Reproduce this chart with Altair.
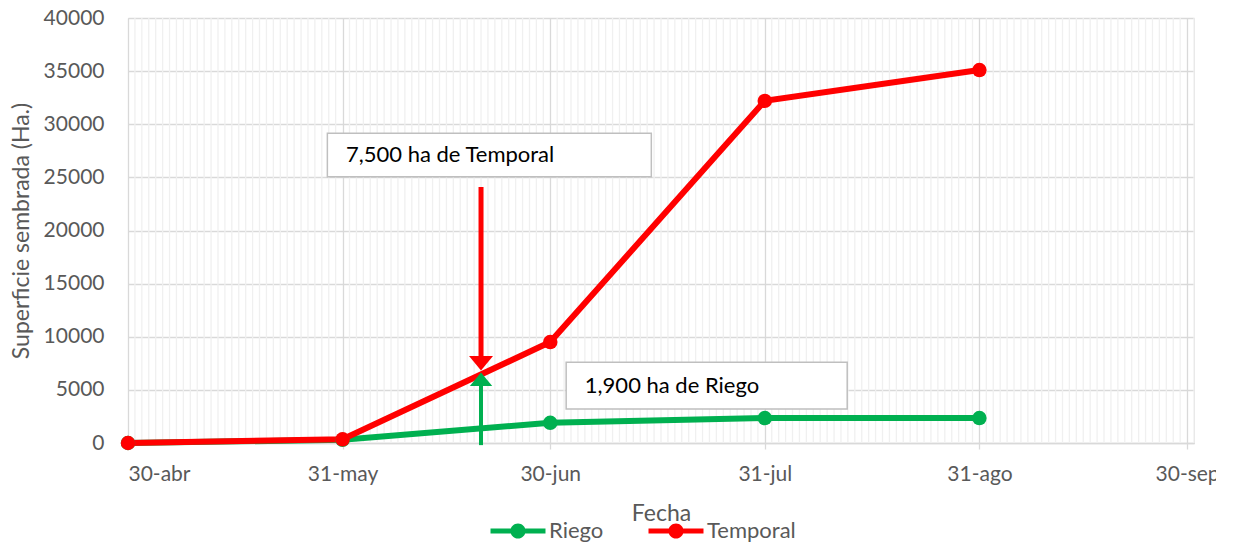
import altair as alt
import pandas as pd

# ---- data ----
fechas = ["2020-04-30", "2020-05-31", "2020-06-30", "2020-07-31", "2020-08-31"]
riego = [0, 300, 1900, 2350, 2350]
temporal = [0, 350, 9500, 32200, 35100]
series_names = ["Riego", "Temporal"]
series_colors = ["#00B050", "#FF0000"]

tick_dates = ["2020-04-30", "2020-05-31", "2020-06-30", "2020-07-31", "2020-08-31", "2020-09-30"]
tick_labels = ["30-abr", "31-may", "30-jun", "31-jul", "31-ago", "30-sep"]
y_ticks = [0, 5000, 10000, 15000, 20000, 25000, 30000, 35000, 40000]

annot_date = "2020-06-20"
box_texts = ["7,500 ha de Temporal", "1,900 ha de Riego"]

FONT = "Lato"
GREY = "#595959"

start = pd.Timestamp(fechas[0])
def day(s):
    return (pd.Timestamp(s) - start).days

rows = []
for name, vals in zip(series_names, [riego, temporal]):
    for f, v in zip(fechas, vals):
        rows.append({"dia": day(f), "valor": v, "serie": name})
df = pd.DataFrame(rows)

tick_days = [day(t) for t in tick_dates]
end_day = tick_days[-1] + 1
minor_days = [d for d in range(0, end_day + 1) if d not in tick_days]
minor_df = pd.DataFrame({"dia": minor_days})

label_map = "{" + ",".join(f"'{d}':'{l}'" for d, l in zip(tick_days, tick_labels)) + "}"
label_expr = f"{label_map}[''+datum.value]"

W, H = 1066, 425
xscale = alt.Scale(domain=[0, end_day], nice=False, zero=False)
yscale = alt.Scale(domain=[0, 40000], nice=False)

x_enc = alt.X("dia:Q", scale=xscale, title="Fecha",
              axis=alt.Axis(values=tick_days, labelExpr=label_expr, grid=True,
                            gridColor="#D9D9D9", gridWidth=1.3,
                            domainColor="#D9D9D9", domainWidth=1.3,
                            tickColor="#D9D9D9", tickSize=6, tickWidth=1.3,
                            labelFont=FONT, labelFontSize=21, labelColor=GREY,
                            labelPadding=14, titleFont=FONT, titleFontSize=23,
                            titleColor=GREY, titleFontWeight="normal", titlePadding=18))
y_enc = alt.Y("valor:Q", scale=yscale, title="Superficie sembrada (Ha.)",
              axis=alt.Axis(values=y_ticks, format="d", grid=True, gridColor="#D9D9D9",
                            gridWidth=1.3, domain=False, ticks=False, labelPadding=24,
                            labelFont=FONT, labelFontSize=21, labelColor=GREY,
                            titleFont=FONT, titleFontSize=23, titleColor=GREY,
                            titleFontWeight="normal", titlePadding=10))

minor = alt.Chart(minor_df).mark_rule(color="#F0F0F0", strokeWidth=1.3).encode(
    x=alt.X("dia:Q", scale=xscale),
    y=alt.datum(0, scale=yscale), y2=alt.datum(40000)
)

color_scale = alt.Scale(domain=series_names, range=series_colors)

legend_path = ("M-2,-0.18 L2,-0.18 L2,0.18 L-2,0.18 Z "
               "M-0.55,0 A0.55,0.55 0 1,1 0.55,0 A0.55,0.55 0 1,1 -0.55,0 Z")
legend = alt.Legend(orient="none", direction="horizontal",
                    legendX=376, legendY=499, padding=0,
                    symbolType=legend_path, symbolSize=756,
                    symbolStrokeWidth=0, symbolOpacity=1, symbolFillColor="black",
                    labelFont=FONT, labelFontSize=22, labelColor=GREY,
                    labelOffset=17, columnPadding=44)
color_enc = alt.Color("serie:N", scale=color_scale, title=None, legend=legend)

lines = alt.Chart(df).mark_line(strokeWidth=6).encode(
    x=x_enc, y=y_enc, color=color_enc, order=alt.Order("dia:Q"),
)

points = alt.Chart(df).mark_point(filled=True, size=210, opacity=1).encode(
    x=alt.X("dia:Q", scale=xscale),
    y=alt.Y("valor:Q", scale=yscale),
    color=color_enc,
)

ad = day(annot_date)
arrow_df = pd.DataFrame({"dia": [ad, ad], "y1": [24100, -200], "y2": [8000, 5800]})
arrow_red = alt.Chart(arrow_df.iloc[[0]]).mark_rule(color="#FF0000", strokeWidth=5).encode(
    x=alt.X("dia:Q", scale=xscale), y=alt.Y("y1:Q", scale=yscale), y2="y2:Q")
arrow_green = alt.Chart(arrow_df.iloc[[1]]).mark_rule(color="#00B050", strokeWidth=4).encode(
    x=alt.X("dia:Q", scale=xscale), y=alt.Y("y1:Q", scale=yscale), y2="y2:Q")

head_down = "M-1,-0.6 L1,-0.6 L0,0.6 Z"
head_up = "M-1,0.6 L1,0.6 L0,-0.6 Z"
heads_df = pd.DataFrame({"dia": [ad], "v": [7500]})
head_red = alt.Chart(heads_df).mark_point(shape=head_down, filled=True, size=576,
                                          color="#FF0000", opacity=1).encode(
    x=alt.X("dia:Q", scale=xscale), y=alt.Y("v:Q", scale=yscale))
heads_df2 = pd.DataFrame({"dia": [ad], "v": [6000]})
head_green = alt.Chart(heads_df2).mark_point(shape=head_up, filled=True, size=500,
                                             color="#00B050", opacity=1).encode(
    x=alt.X("dia:Q", scale=xscale), y=alt.Y("v:Q", scale=yscale))

box_df = pd.DataFrame({
    "x1": [28.8, 63.3], "x2": [75.6, 103.9],
    "y1": [29150, 7600], "y2": [25050, 3200],
    "tx": [31.5, 66.0], "ty": [27100, 5400],
    "texto": box_texts,
})
boxes = alt.Chart(box_df).mark_rect(fill="white", stroke="#BFBFBF", strokeWidth=1.5).encode(
    x=alt.X("x1:Q", scale=xscale), x2="x2:Q",
    y=alt.Y("y1:Q", scale=yscale), y2="y2:Q")
box_text = alt.Chart(box_df).mark_text(align="left", baseline="middle", font=FONT,
                                       fontSize=22, color="#000000").encode(
    x=alt.X("tx:Q", scale=xscale), y=alt.Y("ty:Q", scale=yscale), text="texto:N")

chart = alt.layer(
    minor, lines, points, arrow_red, arrow_green, head_red, head_green, boxes, box_text
).properties(
    width=W, height=H,
    autosize=alt.AutoSizeParams(type="none"),
    padding={"left": 120, "top": 10, "right": 22, "bottom": 100},
).configure_view(stroke=None).configure(background="white")

chart.save("out.html", embed_options={"renderer": "svg", "actions": False})
